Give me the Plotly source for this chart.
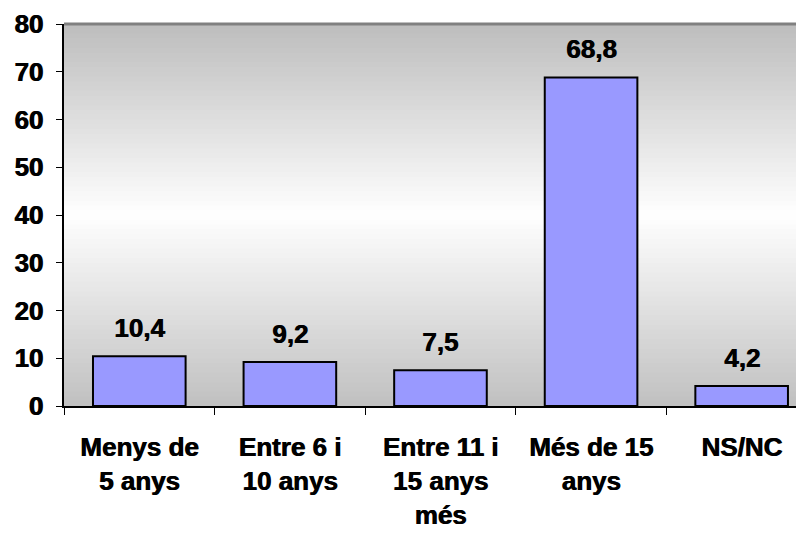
import plotly.graph_objects as go

categories = ["Menys de<br>5 anys", "Entre 6 i<br>10 anys", "Entre 11 i<br>15 anys<br>més", "Més de 15<br>anys", "NS/NC"]
values = [10.4, 9.2, 7.5, 68.8, 4.2]
value_labels = ["10,4", "9,2", "7,5", "68,8", "4,2"]
y_ticks = [0, 10, 20, 30, 40, 50, 60, 70, 80]

FONT = "Liberation Sans, Arial, sans-serif"
SHADOW = "0.8px 0px 0px #000000"

fig = go.Figure()
fig.add_trace(go.Bar(
    x=categories, y=values,
    marker=dict(color="#9999FF", line=dict(color="#000000", width=2)),
    hoverinfo="skip",
))

# value labels above bars
for c, v, t in zip(categories, values, value_labels):
    fig.add_annotation(x=c, y=v, text="<b>%s</b>" % t, showarrow=False,
                       yanchor="bottom", yshift=11,
                       font=dict(family=FONT, size=26, color="#000000", shadow=SHADOW))

# vertical gradient background: gray -> white -> gray
shapes = []
n = 80
top = (189, 189, 189)
mid = (255, 255, 255)
bot = (192, 192, 192)
for i in range(n):
    f = (i + 0.5) / n  # from bottom
    if f < 0.5:
        t = f / 0.5
        col = tuple(int(round(bot[k] + (mid[k] - bot[k]) * t)) for k in range(3))
    else:
        t = (f - 0.5) / 0.5
        col = tuple(int(round(mid[k] + (top[k] - mid[k]) * t)) for k in range(3))
    shapes.append(dict(type="rect", xref="paper", yref="paper", x0=0, x1=1,
                       y0=i / n, y1=(i + 1) / n + 0.002, fillcolor="rgb(%d,%d,%d)" % col,
                       line=dict(width=0), layer="below"))
# top border
shapes.append(dict(type="line", xref="paper", yref="paper", x0=0, x1=1, y0=1, y1=1,
                   line=dict(color="#808080", width=3), layer="above"))
fig.update_layout(shapes=shapes)

# the page body adds an 8px offset, so the figure is sized to fit the window
fig.update_layout(
    width=796, height=525,
    margin=dict(l=56, r=0, t=16, b=127),
    paper_bgcolor="white", plot_bgcolor="white",
    showlegend=False,
    bargap=0.385,
    font=dict(family=FONT, size=26, color="#000000"),
    xaxis=dict(
        range=[-0.5, 4.414], tickson="boundaries", ticks="outside", ticklen=7,
        tickcolor="#000000", tickwidth=1, showline=True, linecolor="#000000", linewidth=1.5,
        tickfont=dict(family=FONT, size=26, color="#000000", weight="bold", shadow=SHADOW),
        showgrid=False, ticklabelstandoff=17, automargin=False,
    ),
    yaxis=dict(
        range=[0, 80], tickvals=y_ticks, ticktext=[str(v) for v in y_ticks],
        ticks="outside", ticklen=6, tickcolor="#000000", tickwidth=1,
        showline=True, linecolor="#000000", linewidth=1.5, showgrid=False, zeroline=False,
        tickfont=dict(family=FONT, size=26, color="#000000", weight="bold", shadow=SHADOW),
        ticklabelstandoff=8, automargin=False,
    ),
)

fig.write_html("out.html")
